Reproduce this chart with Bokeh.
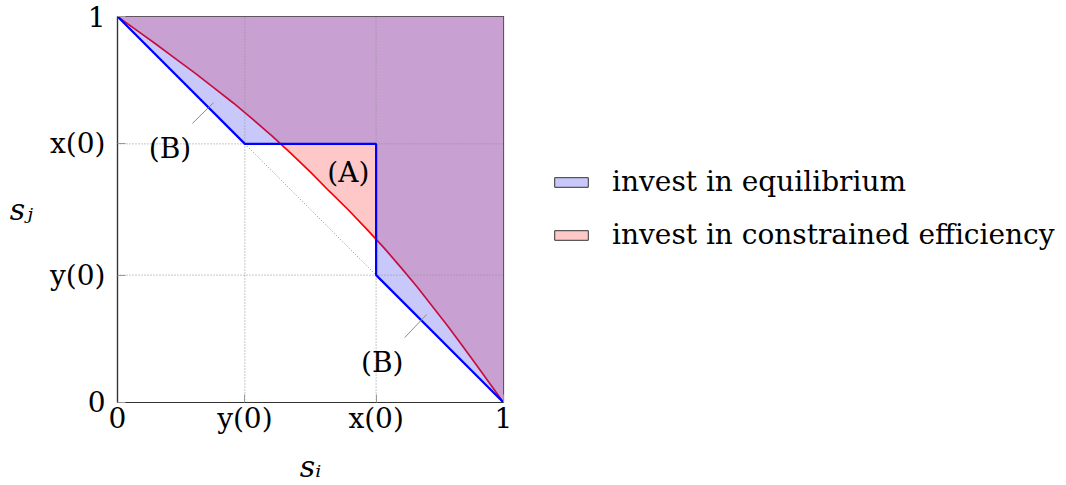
from bokeh.plotting import figure
from bokeh.models import FixedTicker, Legend, LegendItem, Range1d
from bokeh.embed import file_html
from bokeh.resources import INLINE
from bokeh.core.properties import value

# ---- data ----
y0 = 0.33
x0 = 0.67
tick_values = [0.0, y0, x0, 1.0]
tick_labels = ["0", "y(0)", "x(0)", "1"]

# equilibrium investment threshold (blue)
eq_si = [0.0, y0, x0, x0, 1.0]
eq_sj = [1.0, x0, x0, y0, 0.0]

# constrained-efficiency threshold (red)
ce_si = [0.0, 0.05, 0.10, 0.15, 0.20, 0.25, 0.30, 0.35, 0.40, 0.45, 0.50, 0.548,
         0.597, 0.645, 0.691, 0.734, 0.776, 0.815, 0.854, 0.891, 0.928, 0.964, 1.0]
ce_sj = [1.0, 0.964, 0.928, 0.891, 0.854, 0.815, 0.776, 0.734, 0.691, 0.645, 0.597, 0.548,
         0.50, 0.45, 0.40, 0.35, 0.30, 0.25, 0.20, 0.15, 0.10, 0.05, 0.0]

series_labels = ["invest in equilibrium", "invest in constrained efficiency"]

FONT = "DejaVu Serif"

p = figure(frame_width=386, frame_height=386,
           x_range=Range1d(0, 1), y_range=Range1d(0, 1),
           output_backend="svg", toolbar_location=None,
           min_border_left=117, min_border_right=563,
           min_border_top=16, min_border_bottom=83)
p.xgrid.visible = False
p.ygrid.visible = False
p.background_fill_color = "white"
p.border_fill_color = "white"
p.outline_line_color = "#333333"
p.outline_line_width = 1.2

eq_poly_x = eq_si + [1.0]
eq_poly_y = eq_sj + [1.0]
ce_poly_x = ce_si + [1.0]
ce_poly_y = ce_sj + [1.0]

# fills
p.patch(x=ce_poly_x, y=ce_poly_y, fill_color="#FFC8C8", line_color=None)
p.line(ce_si, ce_sj, line_color="#FF0000", line_width=1.7)
p.patch(x=eq_poly_x, y=eq_poly_y, fill_color=(51, 51, 236), fill_alpha=0.27, line_color=None)

# dotted grid at y(0), x(0)
inner = tick_values[1:3]
p.segment(x0=inner, y0=[0.0] * len(inner), x1=inner, y1=[1.0] * len(inner),
          line_color="#8f8f8f", line_width=1.0, line_dash="1 2")
p.segment(x0=[0.0] * len(inner), y0=inner, x1=[1.0] * len(inner), y1=inner,
          line_color="#8f8f8f", line_width=1.0, line_dash="1 2")
# dotted diagonal between the blue corners
p.line([y0, x0], [x0, y0], line_color="#8f8f8f", line_width=1.0, line_dash="1 2")

p.line(eq_si, eq_sj, line_color="#0000FF", line_width=2.2)

# annotations
pin_x0 = [0.194, 0.744]
pin_y0 = [0.723, 0.168]
pin_x1 = [0.249, 0.801]
pin_y1 = [0.777, 0.228]
p.segment(x0=pin_x0, y0=pin_y0, x1=pin_x1, y1=pin_y1, line_color="#8c8c8c", line_width=1.0)
ann_x = [0.136, 0.686, 0.598]
ann_y = [0.658, 0.104, 0.596]
ann_t = ["(B)", "(B)", "(A)"]
p.text(x=ann_x, y=ann_y, text=ann_t, text_font=value(FONT), text_font_size="28px",
       text_align="center", text_baseline="middle", text_color="black")

# legend swatches: hidden copies of the regions with an outline
leg_eq = p.patch(x=eq_poly_x, y=eq_poly_y, fill_color="#C8C8FA",
                 line_color="#333333", line_width=1, visible=False)
leg_ce = p.patch(x=ce_poly_x, y=ce_poly_y, fill_color="#FFC8C8",
                 line_color="#333333", line_width=1, visible=False)
legend = Legend(items=[LegendItem(label=series_labels[0], renderers=[leg_eq]),
                       LegendItem(label=series_labels[1], renderers=[leg_ce])],
                location=(47, 151), glyph_width=42, glyph_height=12,
                label_standoff=20, label_height=30, spacing=20,
                label_text_font=FONT, label_text_font_size="28px", label_text_color="black",
                padding=0, margin=0, border_line_color=None, background_fill_alpha=0,
                inactive_fill_alpha=0)
p.add_layout(legend, "right")

# axes
for ax in (p.xaxis[0], p.yaxis[0]):
    ax.ticker = FixedTicker(ticks=tick_values)
    ax.major_label_overrides = {v: t for v, t in zip(tick_values, tick_labels)}
    ax.major_tick_in = 8
    ax.major_tick_out = 0
    ax.major_tick_line_color = "#999999"
    ax.minor_tick_line_color = None
    ax.axis_line_color = "#333333"
    ax.axis_line_width = 1.2
    ax.major_label_text_font = FONT
    ax.major_label_text_font_size = "28px"
    ax.major_label_text_color = "black"
    ax.axis_label_text_font = FONT
    ax.axis_label_text_font_size = "30px"
    ax.axis_label_text_font_style = "italic"
    ax.axis_label_text_color = "black"

p.xaxis.axis_label = "sᵢ"
p.yaxis.axis_label = "sⱼ"
p.xaxis.major_label_standoff = -1
p.xaxis.axis_label_standoff = 11
p.yaxis.major_label_standoff = 12
p.yaxis.axis_label_standoff = 14
p.yaxis.axis_label_orientation = "horizontal"

open("out.html", "w").write(file_html(p, INLINE))
